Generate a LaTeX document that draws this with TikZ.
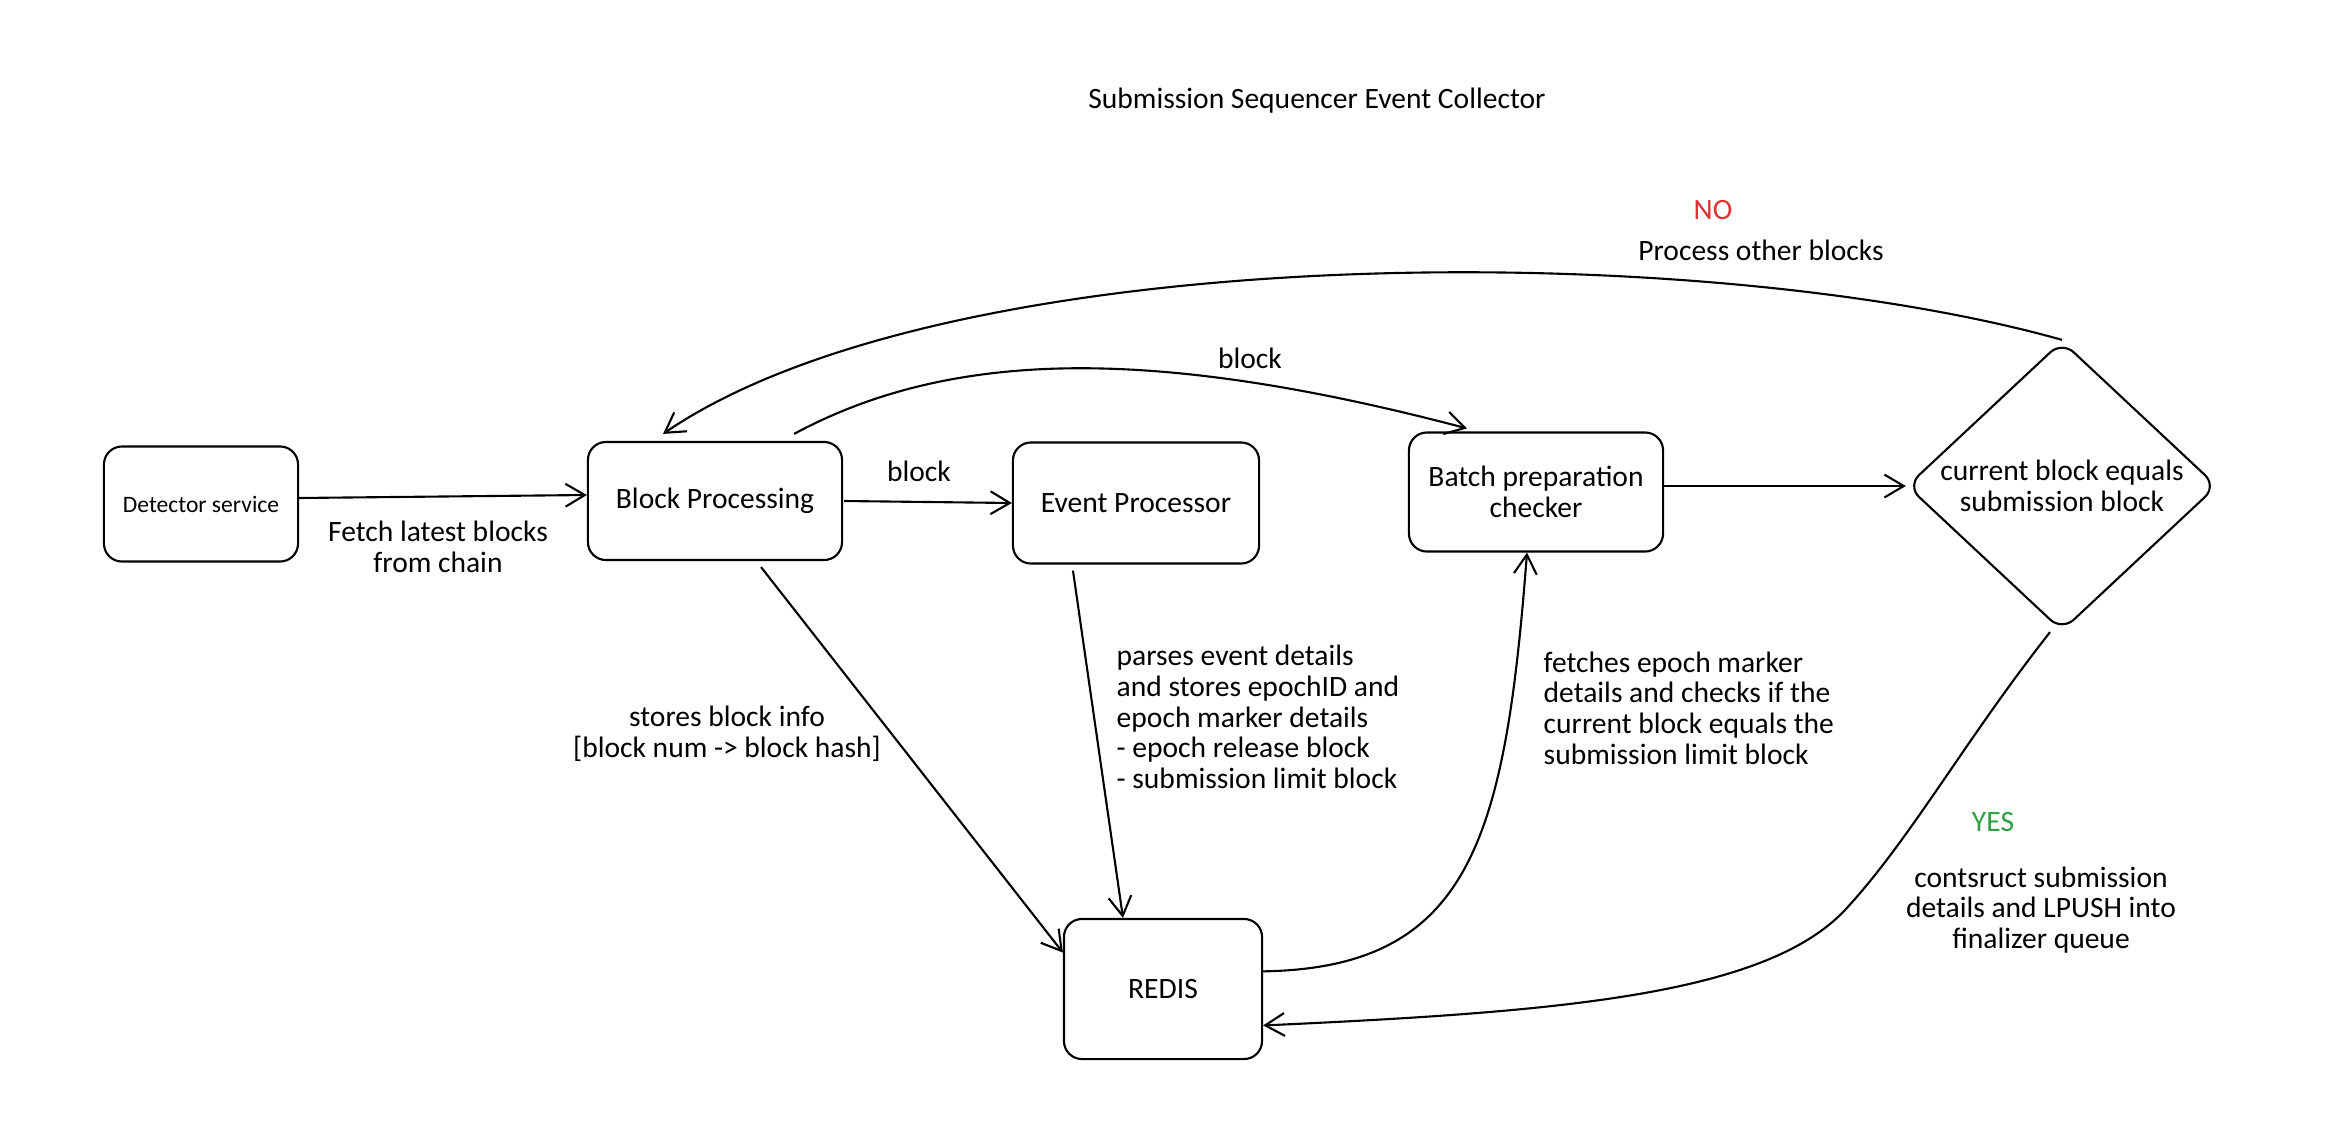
\documentclass[tikz,border=0pt]{standalone}
\usepackage{fontspec}
\setmainfont{Carlito}
\usetikzlibrary{shapes.geometric,arrows.meta}
\definecolor{nored}{RGB}{224,49,49}
\definecolor{yesgreen}{RGB}{47,158,68}

\begin{document}
\begin{tikzpicture}[x=0.01cm,y=-0.01cm,
  every node/.style={font=\fontsize{8.4}{8.7}\selectfont},
  box/.style={draw,line width=0.6pt,rounded corners=0.18cm,align=center,inner sep=0pt},
  cond/.style={draw,diamond,line width=0.6pt,rounded corners=0.16cm,minimum width=3.1cm,minimum height=2.9cm,inner sep=0pt},
  arr/.style={line width=0.6pt,-{Straight Barb[length=5.5pt,width=6.5pt]}},
  lbl/.style={align=center,inner sep=0pt},
  note/.style={align=left,inner sep=0pt}]
\useasboundingbox (0,0) rectangle (2336,1136);

\node[lbl] (title) at (1317,101) {Submission Sequencer Event Collector};

\node[box,minimum width=1.94cm,minimum height=1.15cm,font=\fontsize{6.7}{8}\selectfont] (det) at (201,504) {Detector service};
\node[box,minimum width=2.54cm,minimum height=1.18cm] (bp) at (715,501) {Block Processing};
\node[box,minimum width=2.46cm,minimum height=1.21cm] (ep) at (1136,503) {Event Processor};
\node[box,minimum width=2.54cm,minimum height=1.19cm] (bpc) at (1536,492) {Batch preparation\\checker};
\node[cond] (cmp) at (2062,486) {};
\node[lbl] (cmptxt) at (cmp) {current block equals\\submission block};
\node[box,minimum width=1.98cm,minimum height=1.40cm] (redis) at (1163,989) {REDIS};

\draw[arr] ([yshift=0.06cm]det.east) -- ([yshift=0.06cm]bp.west);
\draw[arr] ([xshift=0.01cm]bp.east) -- (ep.west);
\draw[arr] ([xshift=0.79cm,yshift=0.07cm]bp.north) .. controls (950,350) and (1150,345) .. ([xshift=-0.69cm,yshift=0.03cm]bpc.north);
\draw[arr] (cmp.north) .. controls (1700,238) and (950,238) .. ([xshift=-0.52cm,yshift=0.07cm]bp.north);
\draw[arr] (bpc.east |- cmp.west) -- (cmp.west);
\draw[arr] ([xshift=0.46cm,yshift=-0.06cm]bp.south) -- (redis.160);
\draw[arr] ([xshift=-0.63cm,yshift=-0.06cm]ep.south) -- ([xshift=-0.4cm]redis.north);
\draw[arr] (redis.10) .. controls (1470,968) and (1505,840) .. ([xshift=-0.09cm]bpc.south);
\draw[arr] ([xshift=-0.12cm]cmp.south) .. controls (1965,740) and (1910,840) .. (1845,910) .. controls (1765,995) and (1560,1012) .. (redis.-20);

\node[lbl] (fetch) at (438,547) {Fetch latest blocks\\from chain};
\node[lbl] (blk1) at (919,471) {block};
\node[lbl] (blk2) at (1250,358) {block};
\node[lbl,text=nored] (no) at (1713,210) {NO};
\node[lbl] (other) at (1761,250) {Process other blocks};
\node[lbl] (store) at (727,734) {stores block info\\{[block num -> block hash]}};
\node[note,anchor=west] (parse) at (1116,717) {parses event details\\and stores epochID and\\epoch marker details\\- epoch release block\\- submission limit block};
\node[note,anchor=west] (fetchep) at (1543,708) {fetches epoch marker\\details and checks if the\\current block equals the\\submission limit block};
\node[lbl,text=yesgreen] (yes) at (1993,822) {YES};
\node[lbl] (push) at (2041,910) {contsruct submission\\details and LPUSH into\\finalizer queue};
\end{tikzpicture}
\end{document}
